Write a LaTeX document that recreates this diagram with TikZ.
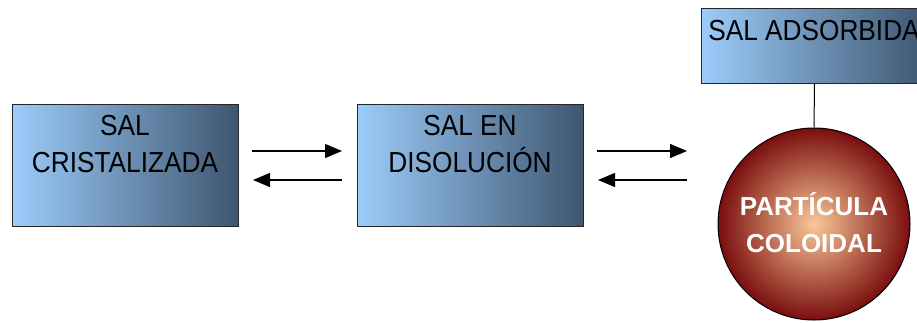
\documentclass[tikz,border=0pt]{standalone}
\usepackage{fontspec}
\setmainfont{Liberation Sans}
\newfontfamily\boxfont[FakeStretch=0.905]{Liberation Sans}
\usetikzlibrary{arrows.meta}
\definecolor{boxlight}{HTML}{9CCCFA}
\definecolor{boxdark}{HTML}{3E5670}
\definecolor{ballin}{HTML}{FAC898}
\definecolor{ballout}{HTML}{7A0E0E}
\tikzset{
  saltbox/.style={draw=black!85, line width=1pt, left color=boxlight, right color=boxdark,
    minimum width=226pt, minimum height=122pt, inner sep=0pt, anchor=north west},
  boxtext/.style={font=\boxfont\fontsize{29}{37}\selectfont, anchor=base, inner sep=0pt, text=black},
  balltext/.style={font=\bfseries\fontsize{26}{37}\selectfont, anchor=base, inner sep=0pt, text=white},
  ball/.style={circle, draw=black, line width=1pt, shading=radial, inner color=ballin, outer color=ballout,
    minimum size=192pt, inner sep=0pt},
  eqarrow/.style={line width=1.3pt, -{Triangle[length=17pt,width=14pt]}},
}
\begin{document}
\begin{tikzpicture}[x=1pt,y=-1pt]
\useasboundingbox (0,0) rectangle (917,322);
\clip (0,0) rectangle (917,322);
\node[saltbox] (b1) at (12,104) {};
\node[saltbox] (b2) at (357,104) {};
\node[saltbox, minimum height=75pt] (b3) at (701,8) {};
\node[ball] (c) at (814,224) {};
\draw[line width=1pt] (b3.south) -- (c.north);
\node[boxtext] (t1a) at (125,135) {SAL};
\node[boxtext] (t1b) at (125,172) {CRISTALIZADA};
\node[boxtext] (t2a) at (470,135) {SAL EN};
\node[boxtext] (t2b) at (470,172) {DISOLUCIÓN};
\node[boxtext] (t3) at (814,40) {SAL ADSORBIDA};
\node[balltext] (ca) at (814,215) {PARTÍCULA};
\node[balltext] (cb) at (814,252) {COLOIDAL};
\coordinate (a1s) at (252,151); \coordinate (a1e) at (342,151);
\coordinate (a2s) at (342,180); \coordinate (a2e) at (253,180);
\coordinate (a3s) at (597,151); \coordinate (a3e) at (687,151);
\coordinate (a4s) at (687,180); \coordinate (a4e) at (598,180);
\draw[eqarrow] (a1s) -- (a1e);
\draw[eqarrow] (a2s) -- (a2e);
\draw[eqarrow] (a3s) -- (a3e);
\draw[eqarrow] (a4s) -- (a4e);
\end{tikzpicture}
\end{document}
